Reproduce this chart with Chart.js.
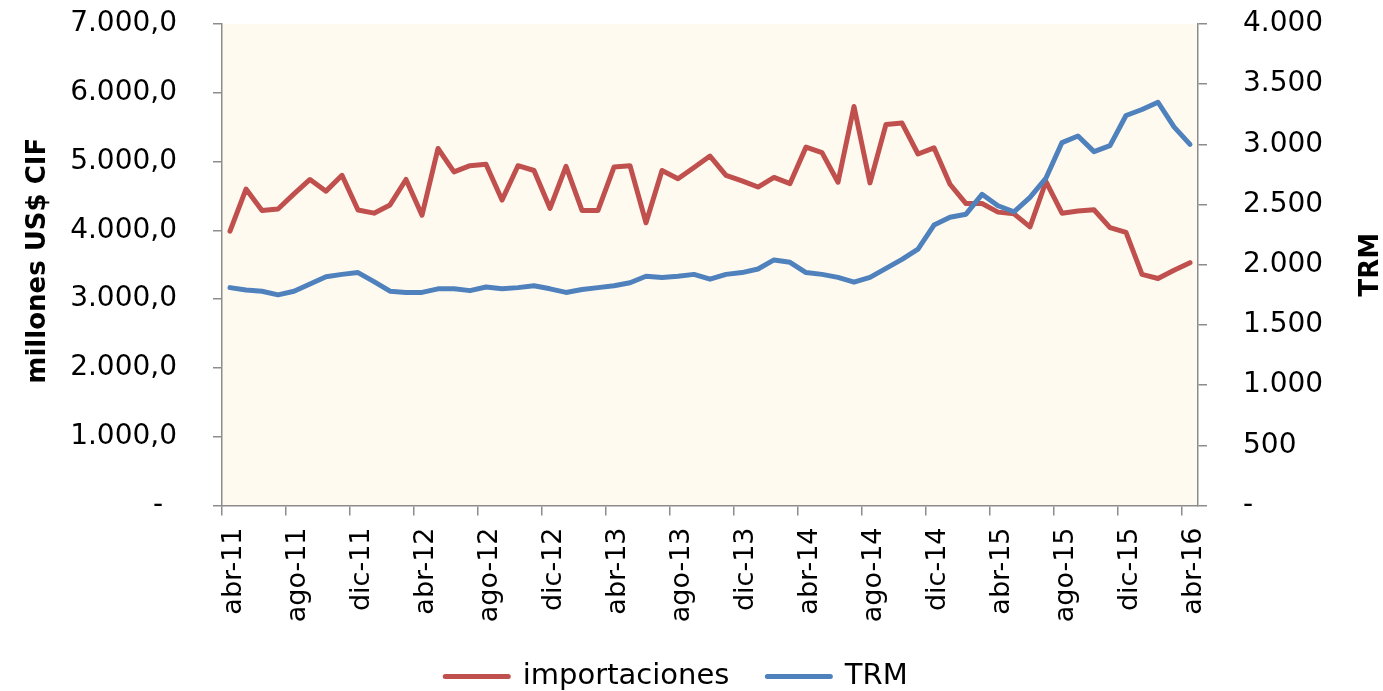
<!DOCTYPE html>
<html>
<head>
<meta charset="utf-8">
<script src="https://cdn.jsdelivr.net/npm/chart.js@4.4.1/dist/chart.umd.min.js"></script>
<style>
  html, body { margin: 0; padding: 0; background: #ffffff; }
  #wrap { width: 1383px; height: 691px; }
</style>
</head>
<body>
<div id="wrap"><canvas id="chart" width="1383" height="691"></canvas></div>
<script>
// Monthly categories, abr-11 .. abr-16
const categories = [
  'abr-11','may-11','jun-11','jul-11','ago-11','sep-11','oct-11','nov-11','dic-11','ene-12','feb-12','mar-12',
  'abr-12','may-12','jun-12','jul-12','ago-12','sep-12','oct-12','nov-12','dic-12','ene-13','feb-13','mar-13',
  'abr-13','may-13','jun-13','jul-13','ago-13','sep-13','oct-13','nov-13','dic-13','ene-14','feb-14','mar-14',
  'abr-14','may-14','jun-14','jul-14','ago-14','sep-14','oct-14','nov-14','dic-14','ene-15','feb-15','mar-15',
  'abr-15','may-15','jun-15','jul-15','ago-15','sep-15','oct-15','nov-15','dic-15','ene-16','feb-16','mar-16',
  'abr-16'
];

// Imports, millions of US$ CIF (left axis)
const importaciones = [
  3990, 4600, 4290, 4310, 4530, 4740, 4570, 4800, 4295, 4250, 4370, 4740,
  4220, 5190, 4850, 4940, 4960, 4440, 4940, 4870, 4320, 4930, 4290, 4290,
  4920, 4940, 4110, 4870, 4750, 4915, 5080, 4800, 4720, 4630, 4770, 4680,
  5210, 5130, 4700, 5800, 4690, 5540, 5560, 5110, 5200, 4670, 4390, 4390,
  4265, 4240, 4050, 4710, 4250, 4280, 4300, 4040, 3970, 3360, 3300, 3420,
  3530
];

// Representative market exchange rate, COP per US$ (right axis)
const trm = [
  1810, 1790, 1780, 1750, 1780, 1840, 1900, 1920, 1935, 1860, 1780, 1770,
  1770, 1800, 1800, 1785, 1815, 1800, 1810, 1825, 1800, 1770, 1795, 1810,
  1825, 1850, 1905, 1895, 1905, 1920, 1880, 1920, 1935, 1965, 2040, 2020,
  1935, 1920, 1895, 1855, 1895, 1970, 2045, 2130, 2330, 2395, 2420, 2585,
  2490, 2440, 2560, 2720, 3015, 3070, 2940, 2990, 3240, 3290, 3350, 3145,
  3000
];

const leftAxisTitle = 'millones US$ CIF';
const rightAxisTitle = 'TRM';

const RED = '#C0504D';
const BLUE = '#4F81BD';
const AXIS = '#8c8c8c';
const PLOT_BG = '#FFFAF0';

function thousands(n) {
  const k = Math.floor(n / 1000);
  const r = n % 1000;
  return k > 0 ? k + '.' + String(r).padStart(3, '0') : String(r);
}
const fmtLeft = v => v === 0 ? '-\u2002' : thousands(v) + ',0';
const fmtRight = v => v === 0 ? '-' : thousands(v);

// Cream fill behind the plot area
const plotBackground = {
  id: 'plotBackground',
  beforeDraw(chart) {
    const a = chart.chartArea;
    const ctx = chart.ctx;
    ctx.save();
    ctx.fillStyle = PLOT_BG;
    ctx.fillRect(a.left, a.top, a.right - a.left, a.bottom - a.top);
    ctx.restore();
  }
};

// Both axis titles read bottom-to-top
const axisTitles = {
  id: 'axisTitles',
  afterDraw(chart) {
    const ctx = chart.ctx;
    const a = chart.chartArea;
    const midY = (a.top + a.bottom) / 2;
    ctx.save();
    ctx.font = 'bold 26px "DejaVu Sans"';
    ctx.fillStyle = '#000000';
    ctx.textAlign = 'center';
    ctx.textBaseline = 'alphabetic';
    ctx.translate(45, midY - 4);
    ctx.rotate(-Math.PI / 2);
    ctx.fillText(leftAxisTitle, 0, 0);
    ctx.restore();
    ctx.save();
    ctx.font = 'bold 26px "DejaVu Sans"';
    ctx.fillStyle = '#000000';
    ctx.textAlign = 'center';
    ctx.textBaseline = 'alphabetic';
    ctx.translate(1378, midY);
    ctx.rotate(-Math.PI / 2);
    ctx.fillText(rightAxisTitle, 0, 0);
    ctx.restore();
  }
};

// Vertical axes: fixed width and no extra top/bottom reservation for tick labels
function fixVertical(width) {
  return function (scale) {
    scale.width = width;
    scale.paddingTop = 0;
    scale.paddingBottom = 0;
  };
}

Chart.defaults.font.family = '"DejaVu Sans"';
Chart.defaults.color = '#000000';

new Chart(document.getElementById('chart'), {
  type: 'line',
  data: {
    labels: categories,
    datasets: [
      {
        label: 'importaciones',
        data: importaciones,
        yAxisID: 'y',
        borderColor: RED,
        backgroundColor: RED,
        borderWidth: 5,
        pointRadius: 0,
        pointHoverRadius: 0,
        tension: 0,
        borderJoinStyle: 'round',
        borderCapStyle: 'round',
        order: 1
      },
      {
        label: 'TRM',
        data: trm,
        yAxisID: 'y1',
        borderColor: BLUE,
        backgroundColor: BLUE,
        borderWidth: 5,
        pointRadius: 0,
        pointHoverRadius: 0,
        tension: 0,
        borderJoinStyle: 'round',
        borderCapStyle: 'round',
        order: 0
      }
    ]
  },
  options: {
    responsive: false,
    animation: false,
    devicePixelRatio: 1,
    layout: { padding: { top: 24, left: 0, right: 30, bottom: -10 } },
    plugins: {
      tooltip: { enabled: false },
      legend: {
        position: 'bottom',
        labels: {
          usePointStyle: true,
          pointStyle: 'line',
          pointStyleWidth: 63,
          padding: 38,
          color: '#000000',
          font: { family: '"DejaVu Sans"', size: 29 },
          sort: (a, b) => a.datasetIndex - b.datasetIndex,
          generateLabels(chart) {
            const items = Chart.defaults.plugins.legend.labels.generateLabels(chart);
            items.forEach(it => {
              const ds = chart.data.datasets[it.datasetIndex];
              it.lineWidth = ds.borderWidth;
              it.strokeStyle = ds.borderColor;
              it.lineCap = 'round';
              it.pointStyle = 'line';
            });
            return items;
          }
        }
      }
    },
    scales: {
      x: {
        type: 'category',
        offset: true,
        border: { color: AXIS, width: 1.5 },
        grid: {
          offset: true,
          drawOnChartArea: false,
          tickLength: 10,
          lineWidth: 1.5,
          color: c => (c.index !== undefined && c.index % 4 === 0) ? AXIS : 'rgba(0,0,0,0)'
        },
        ticks: {
          autoSkip: false,
          maxRotation: 90,
          minRotation: 90,
          padding: 12,
          labelOffset: 4,
          color: '#000000',
          font: { family: '"DejaVu Sans"', size: 27 },
          callback: function (value, index) {
            return index % 4 === 0 ? this.getLabelForValue(value) : '';
          }
        },
        afterFit(scale) { scale.height = 118.5; }
      },
      y: {
        position: 'left',
        min: 0,
        max: 7000,
        border: { color: AXIS, width: 1.5 },
        grid: { drawOnChartArea: false, tickLength: 9, lineWidth: 1.5, color: AXIS },
        ticks: {
          stepSize: 1000,
          padding: 36,
          color: '#000000',
          font: { family: '"DejaVu Sans"', size: 28 },
          callback: v => fmtLeft(v)
        },
        afterFit: fixVertical(222)
      },
      y1: {
        position: 'right',
        min: 0,
        max: 4000,
        border: { color: AXIS, width: 1.5 },
        grid: { drawOnChartArea: false, tickLength: 9, lineWidth: 1.5, color: AXIS },
        ticks: {
          stepSize: 500,
          padding: 36,
          color: '#000000',
          font: { family: '"DejaVu Sans"', size: 28 },
          callback: v => fmtRight(v)
        },
        afterFit: fixVertical(155)
      }
    }
  },
  plugins: [plotBackground, axisTitles]
});
</script>
</body>
</html>
